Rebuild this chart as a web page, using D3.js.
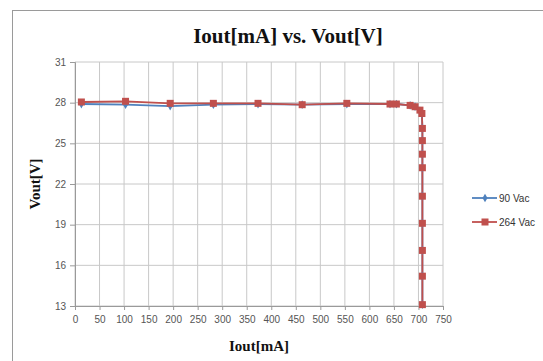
<!DOCTYPE html>
<html><head><meta charset="utf-8">
<script src="https://cdn.jsdelivr.net/npm/d3@7/dist/d3.min.js"></script>
<style>body{margin:0;background:#fff}svg{display:block}</style>
</head><body>
<svg id="c" width="543" height="361"></svg>
<script>
const xTicks = [0,50,100,150,200,250,300,350,400,450,500,550,600,650,700,750];
const yTicks = [13,16,19,22,25,28,31];
const seriesNames = ["90 Vac","264 Vac"];
const iout90 = [13,103,194,282,373,463,554,642,655,683,693,703,707,708,708,708,708,708,708,708,708,708];
const vout90 = [27.9,27.85,27.75,27.85,27.9,27.85,27.9,27.9,27.9,27.8,27.7,27.4,27.2,26.1,25.2,24.2,23.2,21.1,19.1,17.1,15.2,13.1];
const iout264 = [13,103,194,282,373,463,554,642,655,683,693,703,707,708,708,708,708,708,708,708,708,708];
const vout264 = [28.05,28.1,27.95,27.95,27.95,27.85,27.95,27.9,27.9,27.8,27.7,27.45,27.2,26.1,25.2,24.2,23.2,21.1,19.1,17.1,15.2,13.1];
const colors = ["#4f81bd","#c0504d"];

const svg = d3.select("#c");
const L=75,R=443,T=62,B=306;
const x = d3.scaleLinear().domain([0,750]).range([L,R]);
const y = d3.scaleLinear().domain([13,31]).range([B,T]);

svg.append("rect").attr("x",12.5).attr("y",10.5).attr("width",600).attr("height",400)
  .attr("fill","none").attr("stroke","#9a9a9a");

svg.append("g").selectAll("line").data(xTicks).join("line")
  .attr("x1",d=>x(d)).attr("x2",d=>x(d)).attr("y1",T).attr("y2",B)
  .attr("stroke","#c8c8c8");
svg.append("g").selectAll("line").data(yTicks).join("line")
  .attr("x1",L).attr("x2",R).attr("y1",d=>y(d)).attr("y2",d=>y(d))
  .attr("stroke","#c8c8c8");

const yAxis = svg.append("g").attr("transform",`translate(${L},0)`)
  .call(d3.axisLeft(y).tickValues(yTicks).tickSize(5).tickPadding(4));
const xAxis = svg.append("g").attr("transform",`translate(0,${B})`)
  .call(d3.axisBottom(x).tickValues(xTicks).tickSize(4).tickPadding(6));
[xAxis,yAxis].forEach(a=>{
  a.select(".domain").attr("stroke","#9a9a9a");
  a.selectAll(".tick line").attr("stroke","#9a9a9a");
  a.selectAll("text").attr("font-family","Liberation Sans, Arial, sans-serif")
   .attr("font-size",10).attr("fill","#555");
});

const line = d3.line().x(d=>x(d[0])).y(d=>y(d[1]));
const data = [d3.zip(iout90,vout90), d3.zip(iout264,vout264)];
data.forEach((pts,i)=>{
  svg.append("path").datum(pts).attr("d",line).attr("fill","none")
    .attr("stroke",colors[i]).attr("stroke-width",1.8);
});
svg.append("g").selectAll("path").data(data[0]).join("path")
  .attr("transform",d=>`translate(${x(d[0])},${y(d[1])})`)
  .attr("d",d3.symbol(d3.symbolDiamond,22)).attr("fill",colors[0]);
svg.append("g").selectAll("rect").data(data[1]).join("rect")
  .attr("x",d=>x(d[0])-3.5).attr("y",d=>y(d[1])-3.5).attr("width",7).attr("height",7)
  .attr("fill",colors[1]);

svg.append("text").attr("x",288).attr("y",43).attr("text-anchor","middle")
  .attr("font-family","Liberation Serif, Times New Roman, serif").attr("font-weight","bold")
  .attr("font-size",21).attr("fill","#111").text("Iout[mA] vs. Vout[V]");
svg.append("text").attr("x",(L+R)/2).attr("y",351).attr("text-anchor","middle")
  .attr("font-family","Liberation Serif, Times New Roman, serif").attr("font-weight","bold")
  .attr("font-size",15).attr("fill","#111").text("Iout[mA]");
svg.append("text").attr("transform",`translate(40,${(T+B)/2}) rotate(-90)`).attr("text-anchor","middle")
  .attr("font-family","Liberation Serif, Times New Roman, serif").attr("font-weight","bold")
  .attr("font-size",15).attr("fill","#111").text("Vout[V]");

const lg = svg.append("g");
seriesNames.forEach((n,i)=>{
  const yy = 198 + i*24;
  lg.append("line").attr("x1",472).attr("x2",497).attr("y1",yy).attr("y2",yy)
    .attr("stroke",colors[i]).attr("stroke-width",1.8);
  if(i===0) lg.append("path").attr("transform",`translate(485,${yy})`)
    .attr("d",d3.symbol(d3.symbolDiamond,22)).attr("fill",colors[0]);
  else lg.append("rect").attr("x",481.5).attr("y",yy-3.5).attr("width",7).attr("height",7).attr("fill",colors[1]);
  lg.append("text").attr("x",499).attr("y",yy+3.5)
    .attr("font-family","Liberation Sans, Arial, sans-serif").attr("font-size",10)
    .attr("fill","#333").text(n);
});
</script>
</body></html>
